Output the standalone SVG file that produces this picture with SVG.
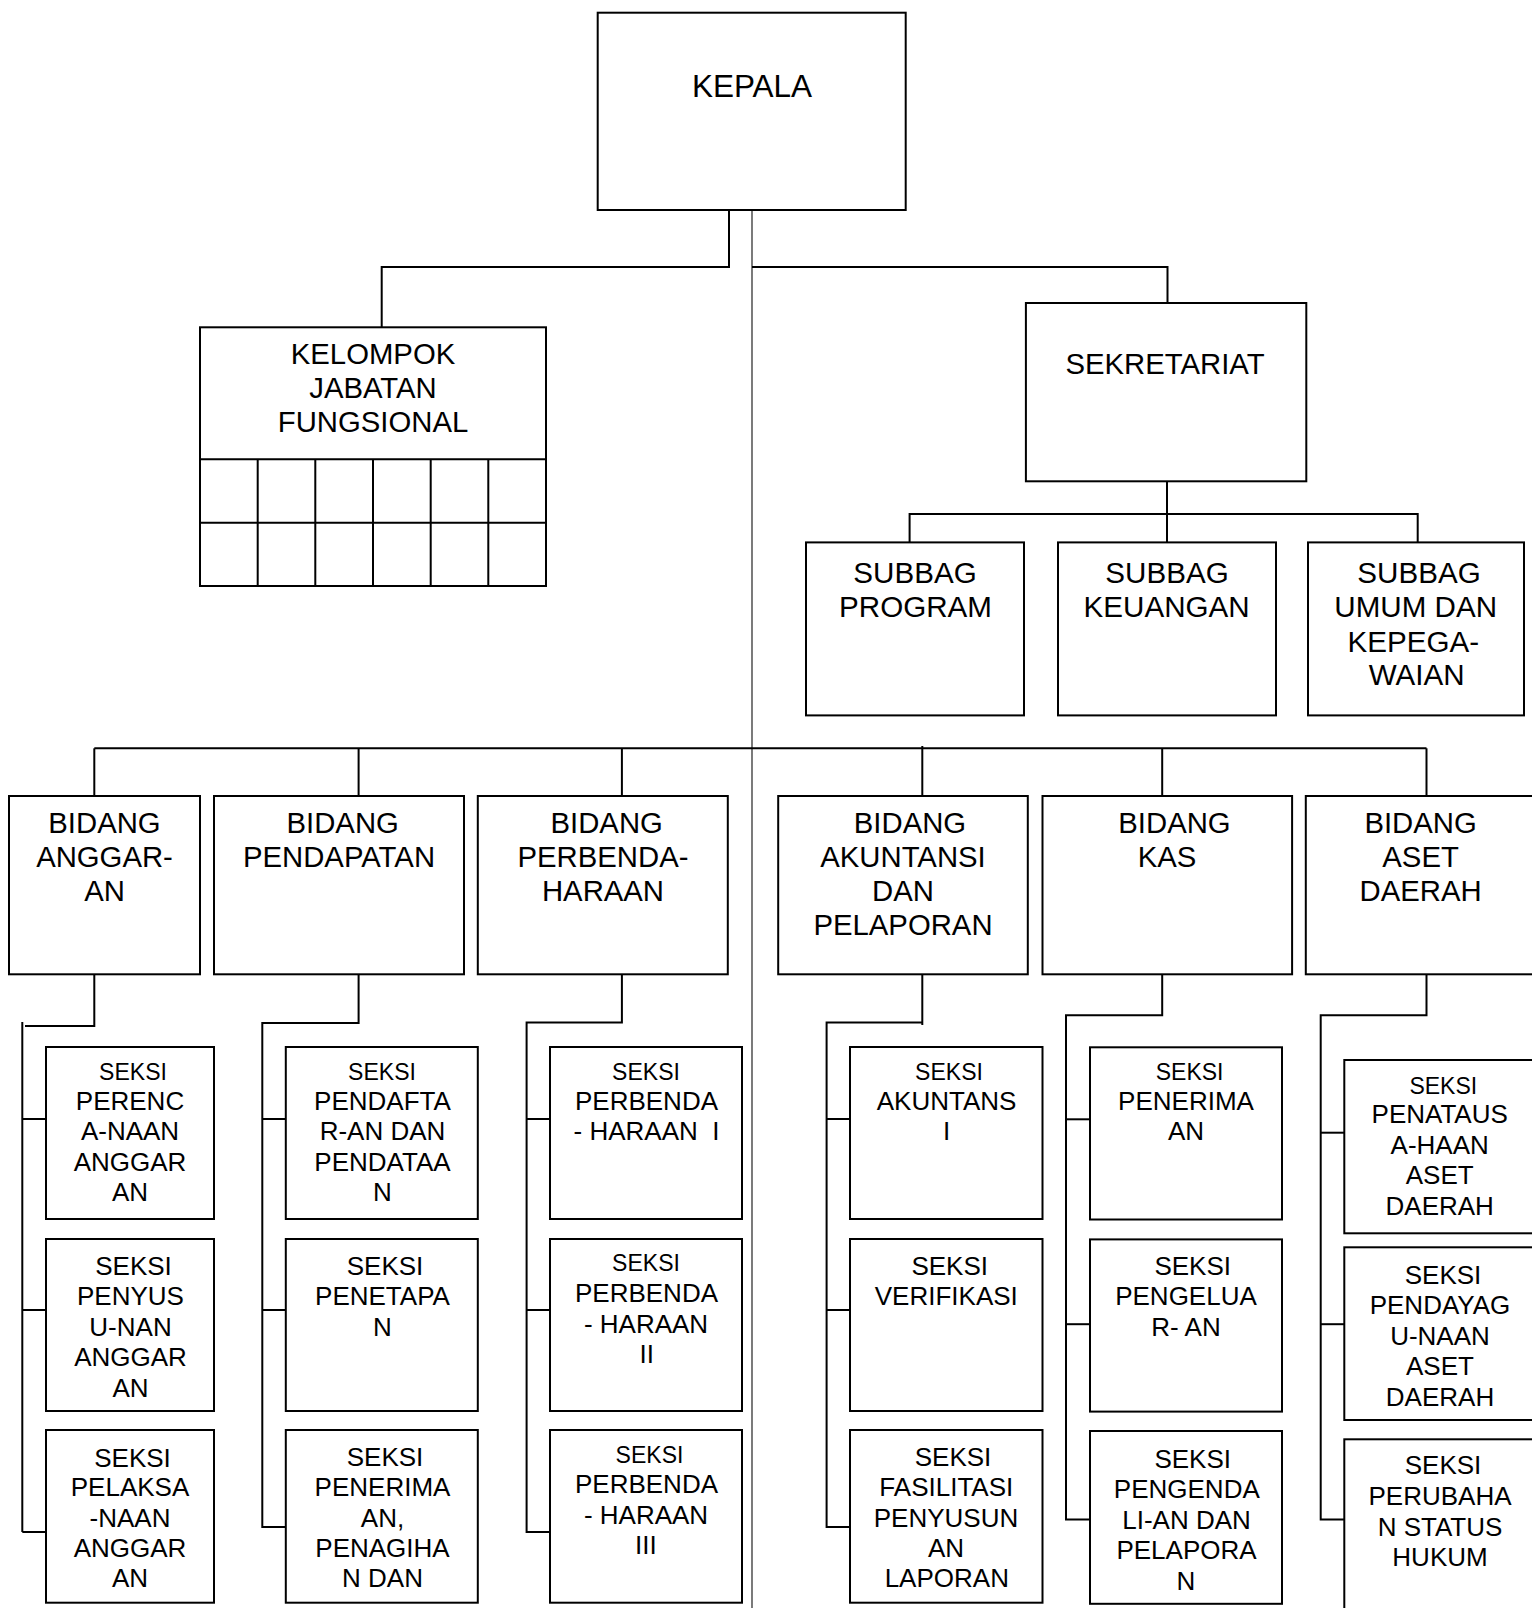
<svg xmlns="http://www.w3.org/2000/svg" width="1532" height="1608" viewBox="0 0 1532 1608">
<style>
.box{fill:#fff;stroke:#000;stroke-width:2}
.ln{fill:none;stroke:#000;stroke-width:2}
.thin{fill:none;stroke:#222;stroke-width:1.2}
text{font-family:"Liberation Sans",Arial,Helvetica,sans-serif;fill:#000;text-anchor:middle}
.f32{font-size:31.5px}
.f30{font-size:29.6px}
.f29{font-size:29.3px}
.f26{font-size:26px}
.f23{font-size:23px}
.pre{white-space:pre}
</style>
<rect width="1532" height="1608" fill="#fff"/>
<g id="connectors">
  <line class="thin" x1="752" y1="210" x2="752" y2="1608"/>
  <polyline class="ln" points="729,210 729,267 381.7,267 381.7,327"/>
  <polyline class="ln" points="752,267 1167.5,267 1167.5,303"/>
  <line class="ln" x1="1167" y1="481" x2="1167" y2="542"/>
  <polyline class="ln" points="909.6,542 909.6,514 1417.7,514 1417.7,542"/>
  <line class="ln" x1="94.3" y1="748.3" x2="1426.5" y2="748.3"/>
  <line class="ln" x1="94.3" y1="748.3" x2="94.3" y2="796"/>
  <line class="ln" x1="358.6" y1="748.3" x2="358.6" y2="796"/>
  <line class="ln" x1="621.9" y1="748.3" x2="621.9" y2="796"/>
  <line class="ln" x1="922.3" y1="746" x2="922.3" y2="796"/>
  <line class="ln" x1="1162.2" y1="748.3" x2="1162.2" y2="796"/>
  <line class="ln" x1="1426.5" y1="748.3" x2="1426.5" y2="796"/>
  <polyline class="ln" points="94.3,974 94.3,1026 25,1026"/>
  <line class="ln" x1="22.3" y1="1022" x2="22.3" y2="1532"/>
  <line class="ln" x1="22.3" y1="1119" x2="46" y2="1119"/>
  <line class="ln" x1="22.3" y1="1310" x2="46" y2="1310"/>
  <line class="ln" x1="22.3" y1="1532" x2="46" y2="1532"/>
  <polyline class="ln" points="358.6,974 358.6,1023 262.3,1023 262.3,1527 286,1527"/>
  <line class="ln" x1="262.3" y1="1119" x2="286" y2="1119"/>
  <line class="ln" x1="262.3" y1="1310" x2="286" y2="1310"/>
  <polyline class="ln" points="621.9,974 621.9,1022.4 526.6,1022.4 526.6,1532 550,1532"/>
  <line class="ln" x1="526.6" y1="1119" x2="550" y2="1119"/>
  <line class="ln" x1="526.6" y1="1310" x2="550" y2="1310"/>
  <line class="ln" x1="922.3" y1="974" x2="922.3" y2="1025"/>
  <polyline class="ln" points="922.3,1022.4 826.6,1022.4 826.6,1527 850,1527"/>
  <line class="ln" x1="826.6" y1="1119" x2="850" y2="1119"/>
  <line class="ln" x1="826.6" y1="1310" x2="850" y2="1310"/>
  <polyline class="ln" points="1162.2,974 1162.2,1015.2 1066,1015.2 1066,1519.6 1090,1519.6"/>
  <line class="ln" x1="1066" y1="1119.3" x2="1090" y2="1119.3"/>
  <line class="ln" x1="1066" y1="1324.2" x2="1090" y2="1324.2"/>
  <polyline class="ln" points="1426.5,974 1426.5,1015.2 1320.7,1015.2 1320.7,1519.6 1344.3,1519.6"/>
  <line class="ln" x1="1320.7" y1="1132.7" x2="1344.3" y2="1132.7"/>
  <line class="ln" x1="1320.7" y1="1324.2" x2="1344.3" y2="1324.2"/>
</g>
<g id="kepala">
  <rect class="box" x="597.7" y="12.7" width="308" height="197.3"/>
  <text class="f32" x="752" y="96.7">KEPALA</text>
</g>
<g id="kelompok">
  <rect class="box" x="200" y="327.3" width="346" height="258.7"/>
  <path class="ln" d="M200,459.3H546M200,522.7H546M257.7,459.3V586M315.3,459.3V586M373,459.3V586M430.7,459.3V586M488.3,459.3V586"/>
  <text class="f29" x="373" y="364">KELOMPOK</text>
  <text class="f29" x="373" y="398.3">JABATAN</text>
  <text class="f29" x="373" y="431.7">FUNGSIONAL</text>
</g>
<g id="sekretariat">
  <rect class="box" x="1025.9" y="303" width="280.4" height="178.3"/>
  <text class="f29" x="1165" y="374">SEKRETARIAT</text>
</g>
<g id="subbag-program">
  <rect class="box" x="806" y="542.4" width="218" height="173"/>
  <text class="f30" x="915" y="583.3">SUBBAG</text>
  <text class="f30" x="915.5" y="617.3">PROGRAM</text>
</g>
<g id="subbag-keuangan">
  <rect class="box" x="1058" y="542.4" width="218" height="173"/>
  <text class="f30" x="1167" y="583.3">SUBBAG</text>
  <text class="f30" x="1166.6" y="617.3">KEUANGAN</text>
</g>
<g id="subbag-umum">
  <rect class="box" x="1308" y="542.4" width="216" height="173"/>
  <text class="f30" x="1419" y="583.3">SUBBAG</text>
  <text class="f30" x="1415.7" y="617.3">UMUM DAN</text>
  <text class="f30" x="1413.3" y="651.5">KEPEGA-</text>
  <text class="f30" x="1416.7" y="685">WAIAN</text>
</g>
<g id="bidang-anggaran">
  <rect class="box" x="9" y="796" width="191" height="178.3"/>
  <text class="f29" x="104.5" y="833.3">BIDANG</text>
  <text class="f29" x="104.5" y="866.7">ANGGAR-</text>
  <text class="f29" x="104.5" y="900.7">AN</text>
</g>
<g id="bidang-pendapatan">
  <rect class="box" x="214" y="796" width="250" height="178.3"/>
  <text class="f29" x="342.7" y="833.3">BIDANG</text>
  <text class="f29" x="339" y="866.7">PENDAPATAN</text>
</g>
<g id="bidang-perbendaharaan">
  <rect class="box" x="477.8" y="796" width="250" height="178.3"/>
  <text class="f29" x="606.7" y="833.3">BIDANG</text>
  <text class="f29" x="603" y="866.7">PERBENDA-</text>
  <text class="f29" x="603" y="900.7">HARAAN</text>
</g>
<g id="bidang-akuntansi">
  <rect class="box" x="778.2" y="796" width="249.6" height="178.3"/>
  <text class="f29" x="910" y="833.3">BIDANG</text>
  <text class="f29" x="903" y="866.7">AKUNTANSI</text>
  <text class="f29" x="903" y="900.7">DAN</text>
  <text class="f29" x="903" y="934.5">PELAPORAN</text>
</g>
<g id="bidang-kas">
  <rect class="box" x="1042.5" y="796" width="249.6" height="178.3"/>
  <text class="f29" x="1174.5" y="833.3">BIDANG</text>
  <text class="f29" x="1167" y="866.7">KAS</text>
</g>
<g id="bidang-aset">
  <rect class="box" x="1305.8" y="796" width="240" height="178.3"/>
  <text class="f29" x="1420.6" y="833.3">BIDANG</text>
  <text class="f29" x="1420.6" y="866.7">ASET</text>
  <text class="f29" x="1420.6" y="900.7">DAERAH</text>
</g>
<g id="seksi-perencanaan">
  <rect class="box" x="46" y="1047" width="168" height="172"/>
  <text class="f23" x="133" y="1079.5">SEKSI</text>
  <text class="f26" x="130" y="1109.5">PERENC</text>
  <text class="f26" x="130" y="1140">A-NAAN</text>
  <text class="f26" x="130" y="1170.7">ANGGAR</text>
  <text class="f26" x="130" y="1200.7">AN</text>
</g>
<g id="seksi-penyusunan">
  <rect class="box" x="46" y="1239" width="168" height="172"/>
  <text class="f26" x="133.5" y="1274.5">SEKSI</text>
  <text class="f26" x="130.5" y="1305">PENYUS</text>
  <text class="f26" x="130.5" y="1335.5">U-NAN</text>
  <text class="f26" x="130.5" y="1366">ANGGAR</text>
  <text class="f26" x="130.5" y="1396.5">AN</text>
</g>
<g id="seksi-pelaksanaan">
  <rect class="box" x="46" y="1430" width="168" height="172.7"/>
  <text class="f26" x="132.5" y="1466.7">SEKSI</text>
  <text class="f26" x="130" y="1495.5">PELAKSA</text>
  <text class="f26" x="130" y="1526.7">-NAAN</text>
  <text class="f26" x="130" y="1556.7">ANGGAR</text>
  <text class="f26" x="130" y="1587">AN</text>
</g>
<g id="seksi-pendaftaran">
  <rect class="box" x="285.8" y="1047" width="192" height="172"/>
  <text class="f23" x="382" y="1079.5">SEKSI</text>
  <text class="f26" x="382.5" y="1109.5">PENDAFTA</text>
  <text class="f26" x="382.5" y="1140">R-AN DAN</text>
  <text class="f26" x="382.5" y="1170.7">PENDATAA</text>
  <text class="f26" x="382.5" y="1200.7">N</text>
</g>
<g id="seksi-penetapan">
  <rect class="box" x="285.8" y="1239" width="192" height="172"/>
  <text class="f26" x="385" y="1274.5">SEKSI</text>
  <text class="f26" x="382.5" y="1305">PENETAPA</text>
  <text class="f26" x="382.5" y="1335.5">N</text>
</g>
<g id="seksi-penerimaan-penagihan">
  <rect class="box" x="285.8" y="1430" width="192" height="172.7"/>
  <text class="f26" x="385" y="1466">SEKSI</text>
  <text class="f26" x="382.5" y="1496">PENERIMA</text>
  <text class="f26" x="382.5" y="1526.5">AN,</text>
  <text class="f26" x="382.5" y="1557">PENAGIHA</text>
  <text class="f26" x="382.5" y="1587">N DAN</text>
</g>
<g id="seksi-perbendaharaan-1">
  <rect class="box" x="550" y="1047" width="192" height="172"/>
  <text class="f23" x="646" y="1079.5">SEKSI</text>
  <text class="f26" x="646.5" y="1109.5">PERBENDA</text>
  <text class="f26 pre" x="646.5" y="1140">- HARAAN  I</text>
</g>
<g id="seksi-perbendaharaan-2">
  <rect class="box" x="550" y="1239" width="192" height="172"/>
  <text class="f23" x="646" y="1270.7">SEKSI</text>
  <text class="f26" x="646.5" y="1302">PERBENDA</text>
  <text class="f26" x="646" y="1332.5">- HARAAN</text>
  <text class="f26" x="646.8" y="1363">II</text>
</g>
<g id="seksi-perbendaharaan-3">
  <rect class="box" x="550" y="1430" width="192" height="172.7"/>
  <text class="f23" x="649.5" y="1462.6">SEKSI</text>
  <text class="f26" x="646.5" y="1493">PERBENDA</text>
  <text class="f26" x="646" y="1523.5">- HARAAN</text>
  <text class="f26" x="645.8" y="1553.5">III</text>
</g>
<g id="seksi-akuntansi">
  <rect class="box" x="850" y="1047" width="192.5" height="172"/>
  <text class="f23" x="949" y="1079.5">SEKSI</text>
  <text class="f26" x="946.6" y="1109.5">AKUNTANS</text>
  <text class="f26" x="946.6" y="1140">I</text>
</g>
<g id="seksi-verifikasi">
  <rect class="box" x="850" y="1239" width="192.5" height="172"/>
  <text class="f26" x="949.7" y="1274.5">SEKSI</text>
  <text class="f26" x="946.3" y="1305">VERIFIKASI</text>
</g>
<g id="seksi-fasilitasi">
  <rect class="box" x="850" y="1430" width="192.5" height="172.7"/>
  <text class="f26" x="953" y="1466">SEKSI</text>
  <text class="f26" x="946.3" y="1496">FASILITASI</text>
  <text class="f26" x="946" y="1526.5">PENYUSUN</text>
  <text class="f26" x="946" y="1557">AN</text>
  <text class="f26" x="946.8" y="1587">LAPORAN</text>
</g>
<g id="seksi-penerimaan">
  <rect class="box" x="1090" y="1047.3" width="192" height="172.2"/>
  <text class="f23" x="1189.6" y="1079.5">SEKSI</text>
  <text class="f26" x="1186" y="1109.5">PENERIMA</text>
  <text class="f26" x="1186" y="1140">AN</text>
</g>
<g id="seksi-pengeluaran">
  <rect class="box" x="1090" y="1239.4" width="192" height="172.2"/>
  <text class="f26" x="1192.7" y="1274.5">SEKSI</text>
  <text class="f26" x="1186" y="1305">PENGELUA</text>
  <text class="f26 pre" x="1186" y="1335.5">R- AN</text>
</g>
<g id="seksi-pengendalian">
  <rect class="box" x="1090" y="1431" width="192" height="172.8"/>
  <text class="f26" x="1192.7" y="1467.5">SEKSI</text>
  <text class="f26" x="1186.8" y="1498">PENGENDA</text>
  <text class="f26" x="1186.5" y="1528.5">LI-AN DAN</text>
  <text class="f26" x="1186.5" y="1559">PELAPORA</text>
  <text class="f26" x="1186" y="1589.5">N</text>
</g>
<g id="seksi-penatausahaan">
  <rect class="box" x="1344.3" y="1060" width="200" height="173.3"/>
  <text class="f23" x="1443.3" y="1094">SEKSI</text>
  <text class="f26" x="1439.7" y="1123.3">PENATAUS</text>
  <text class="f26" x="1439.7" y="1153.5">A-HAAN</text>
  <text class="f26" x="1439.7" y="1184">ASET</text>
  <text class="f26" x="1439.7" y="1215">DAERAH</text>
</g>
<g id="seksi-pendayagunaan">
  <rect class="box" x="1344.3" y="1247.3" width="200" height="172.7"/>
  <text class="f26" x="1443" y="1283.7">SEKSI</text>
  <text class="f26" x="1440" y="1314.2">PENDAYAG</text>
  <text class="f26" x="1440" y="1344.7">U-NAAN</text>
  <text class="f26" x="1440" y="1375">ASET</text>
  <text class="f26" x="1440" y="1405.6">DAERAH</text>
</g>
<g id="seksi-perubahan">
  <rect class="box" x="1344.3" y="1439.3" width="200" height="190"/>
  <text class="f26" x="1443" y="1474.3">SEKSI</text>
  <text class="f26" x="1440" y="1505">PERUBAHA</text>
  <text class="f26" x="1440" y="1536">N STATUS</text>
  <text class="f26" x="1440" y="1566">HUKUM</text>
</g>
</svg>
